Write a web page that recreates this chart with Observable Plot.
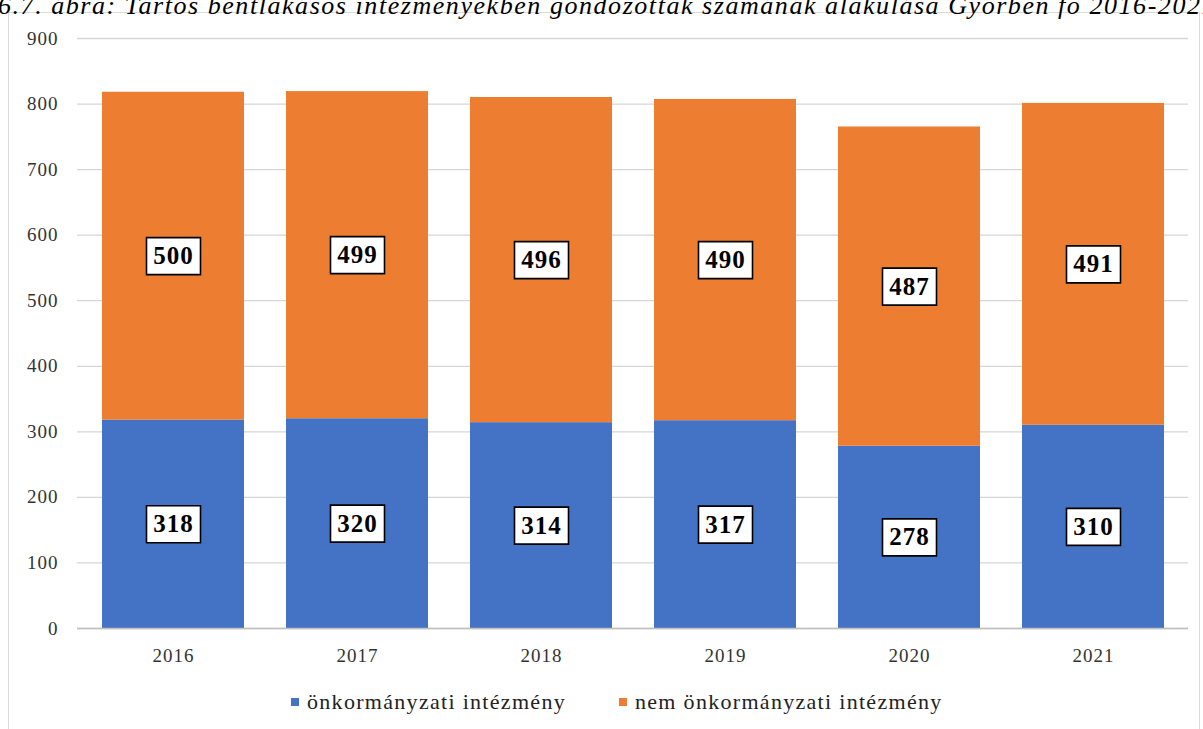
<!DOCTYPE html>
<html>
<head>
<meta charset="utf-8">
<script src="https://cdn.jsdelivr.net/npm/d3@7"></script>
<script src="https://cdn.jsdelivr.net/npm/@observablehq/plot@0.6"></script>
<style>
  html, body { margin: 0; padding: 0; background: #fff; overflow: hidden; }
  #wrap { position: relative; width: 1203px; height: 729px; overflow: hidden; }
  #frame { position: absolute; left: 8px; top: 12px; width: 1192px; height: 740px; border: 1px solid #d9d9d9; box-sizing: border-box; }
  #title { position: absolute; left: -2px; top: -9px; white-space: nowrap; font-family: "Liberation Serif", "Times New Roman", Tinos, serif; font-style: italic; font-size: 26px; letter-spacing: 1.55px; color: #000; }
  #chart { position: absolute; left: 0; top: 0; }
  #legend { position: absolute; left: 291px; top: 686px; white-space: nowrap; font-family: "Liberation Serif", "Times New Roman", Tinos, serif; font-size: 22px; letter-spacing: 1.3px; color: #222; }
  #legend span.item { display: inline-flex; align-items: center; margin-right: 53px; }
  #legend span.sw { display: inline-block; width: 8px; height: 8px; margin-right: 8px; }
</style>
</head>
<body>
<div id="wrap">
  <div id="frame"></div>
  <div id="title"></div>
  <div id="chart"></div>
  <div id="legend"></div>
</div>
<script>
const titleText = "6.7. ábra: Tartós bentlakásos intézményekben gondozottak számának alakulása Győrben  fő 2016-2021";
const years = ["2016", "2017", "2018", "2019", "2020", "2021"];
const categories = ["önkormányzati intézmény", "nem önkormányzati intézmény"];
const onkormanyzati = [318, 320, 314, 317, 278, 310];
const nemOnkormanyzati = [500, 499, 496, 490, 487, 491];
const colors = ["#4472C4", "#ED7D31"];
const yTicks = [0, 100, 200, 300, 400, 500, 600, 700, 800, 900];

const data = [];
categories.forEach((c, ci) => {
  const vals = ci === 0 ? onkormanyzati : nemOnkormanyzati;
  years.forEach((y, i) => data.push({year: y, category: c, value: vals[i]}));
});

document.getElementById("title").textContent = titleText;

const serif = "'Liberation Serif', 'Times New Roman', Tinos, serif";
const boxSymbol = { draw(context) { context.rect(-27, -18.5, 54, 37); } };

const chart = Plot.plot({
  width: 1203,
  height: 680,
  marginLeft: 77,
  marginRight: 15,
  marginTop: 38,
  marginBottom: 52,
  style: { fontFamily: serif, fontSize: "19px", color: "#333", background: "transparent", letterSpacing: "1px" },
  x: { domain: years, paddingInner: 0.23, paddingOuter: 0.118, label: null, tickSize: 0, tickPadding: 20 },
  y: { domain: [0, 900], ticks: yTicks, label: null, tickSize: 0, tickPadding: 19 },
  color: { domain: categories, range: colors },
  marks: [
    Plot.gridY(yTicks, { stroke: "#d6d6d6", strokeOpacity: 1, strokeWidth: 1.3 }),
    Plot.barY(data, { x: "year", y: "value", fill: "category" }),
    Plot.ruleY([0], { stroke: "#bfbfbf", strokeWidth: 1.3 }),
    Plot.dot(data, Plot.stackY({ x: "year", y: "value", z: "category", r: 1, symbol: boxSymbol, fill: "white", stroke: "black", strokeWidth: 1.6 })),
    Plot.text(data, Plot.stackY({ x: "year", y: "value", z: "category", text: d => String(d.value), fill: "black", fontWeight: "bold", fontSize: 25, fontFamily: serif }))
  ]
});
document.getElementById("chart").appendChild(chart);

const legend = document.getElementById("legend");
categories.forEach((c, i) => {
  const item = document.createElement("span");
  item.className = "item";
  const sw = document.createElement("span");
  sw.className = "sw";
  sw.style.background = colors[i];
  item.appendChild(sw);
  item.appendChild(document.createTextNode(c));
  legend.appendChild(item);
});
</script>
</body>
</html>
